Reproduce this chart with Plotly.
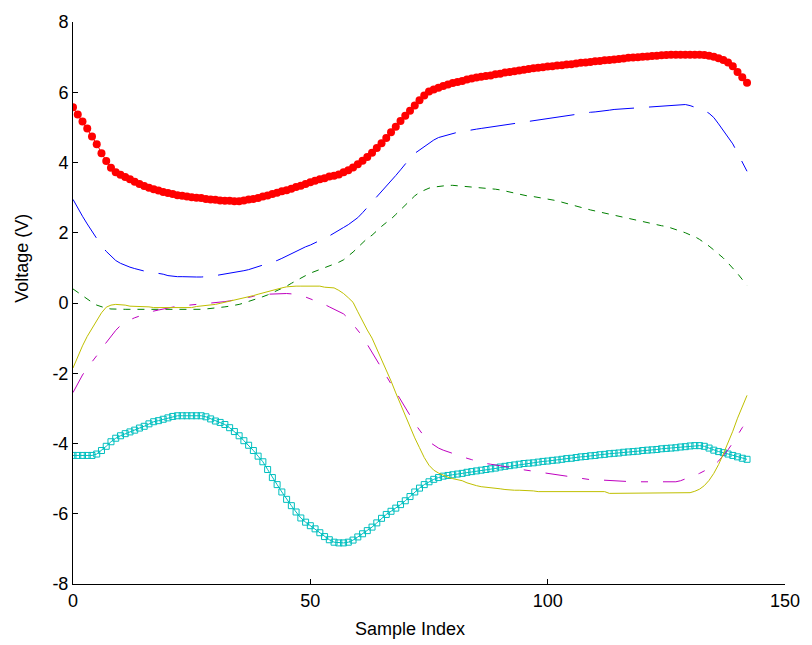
import plotly.graph_objects as go

# Sample indices (143 samples per channel)
sample_index = list(range(143))

# Channel voltages (V)
ch_red = [
    5.57, 5.37, 5.17, 4.97, 4.74, 4.52, 4.26, 4.04, 3.85, 3.72,
    3.65, 3.59, 3.52, 3.45, 3.39, 3.33, 3.28, 3.24, 3.20, 3.16,
    3.13, 3.10, 3.07, 3.05, 3.03, 3.01, 3.00, 2.99, 2.96, 2.95,
    2.94, 2.92, 2.91, 2.91, 2.90, 2.90, 2.92, 2.95, 2.96, 2.99,
    3.03, 3.06, 3.10, 3.14, 3.18, 3.21, 3.25, 3.30, 3.34, 3.39,
    3.44, 3.48, 3.52, 3.55, 3.60, 3.62, 3.66, 3.72, 3.78, 3.86,
    3.95, 4.05, 4.16, 4.28, 4.41, 4.55, 4.70, 4.86, 5.02, 5.18,
    5.33, 5.47, 5.62, 5.77, 5.91, 6.02, 6.08, 6.13, 6.18, 6.22,
    6.26, 6.29, 6.32, 6.36, 6.39, 6.42, 6.44, 6.46, 6.48, 6.51,
    6.53, 6.56, 6.58, 6.60, 6.62, 6.64, 6.66, 6.68, 6.70, 6.71,
    6.73, 6.74, 6.76, 6.77, 6.79, 6.80, 6.82, 6.84, 6.85, 6.86,
    6.88, 6.89, 6.91, 6.92, 6.93, 6.95, 6.96, 6.98, 6.99, 7.00,
    7.01, 7.02, 7.03, 7.04, 7.05, 7.06, 7.07, 7.07, 7.07, 7.07,
    7.07, 7.07, 7.07, 7.06, 7.04, 7.01, 6.97, 6.92, 6.85, 6.74,
    6.58, 6.43, 6.27,
]

ch_blue = [
    2.95, 2.70, 2.47, 2.25, 2.03, 1.84, 1.63, 1.47, 1.33, 1.21,
    1.13, 1.07, 1.02, 0.98, 0.94, 0.91, 0.89, 0.87, 0.86, 0.82,
    0.78, 0.76, 0.75, 0.75, 0.74, 0.74, 0.74, 0.74, 0.74, 0.76,
    0.78, 0.80, 0.82, 0.84, 0.86, 0.88, 0.92, 0.95, 0.99, 1.03,
    1.07, 1.12, 1.16, 1.21, 1.27, 1.34, 1.41, 1.48, 1.54, 1.60,
    1.65, 1.71, 1.77, 1.84, 1.91, 1.99, 2.06, 2.15, 2.23, 2.32,
    2.43, 2.57, 2.72, 2.86, 3.00, 3.15, 3.31, 3.47, 3.63, 3.79,
    3.96, 4.12, 4.26, 4.36, 4.45, 4.55, 4.64, 4.71, 4.75, 4.79,
    4.83, 4.86, 4.88, 4.91, 4.93, 4.95, 4.97, 4.99, 5.01, 5.03,
    5.06, 5.08, 5.11, 5.13, 5.15, 5.17, 5.18, 5.20, 5.22, 5.25,
    5.27, 5.29, 5.30, 5.31, 5.33, 5.36, 5.38, 5.40, 5.42, 5.43,
    5.44, 5.45, 5.47, 5.49, 5.51, 5.52, 5.53, 5.53, 5.54, 5.55,
    5.56, 5.58, 5.59, 5.60, 5.61, 5.63, 5.64, 5.65, 5.66, 5.65,
    5.62, 5.58, 5.54, 5.48, 5.40, 5.28, 5.10, 4.92, 4.74, 4.53,
    4.27, 4.01, 3.75,
]

ch_green = [
    0.40, 0.30, 0.20, 0.10, 0.02, -0.06, -0.11, -0.15, -0.17, -0.18,
    -0.18, -0.18, -0.18, -0.18, -0.18, -0.18, -0.19, -0.19, -0.19, -0.20,
    -0.20, -0.20, -0.20, -0.20, -0.20, -0.20, -0.19, -0.18, -0.17, -0.16,
    -0.15, -0.13, -0.11, -0.09, -0.07, -0.04, 0.00, 0.04, 0.08, 0.13,
    0.18, 0.23, 0.29, 0.35, 0.41, 0.48, 0.56, 0.64, 0.71, 0.78,
    0.85, 0.90, 0.95, 1.00, 1.05, 1.10, 1.16, 1.23, 1.33, 1.45,
    1.58, 1.72, 1.84, 1.93, 2.06, 2.18, 2.29, 2.39, 2.52, 2.65,
    2.78, 2.92, 3.05, 3.15, 3.22, 3.27, 3.30, 3.32, 3.34, 3.35,
    3.35, 3.34, 3.33, 3.32, 3.31, 3.30, 3.29, 3.27, 3.26, 3.24,
    3.22, 3.19, 3.15, 3.11, 3.08, 3.06, 3.04, 3.03, 3.01, 2.99,
    2.96, 2.93, 2.91, 2.87, 2.83, 2.80, 2.76, 2.72, 2.68, 2.65,
    2.62, 2.59, 2.55, 2.52, 2.49, 2.46, 2.43, 2.40, 2.37, 2.34,
    2.31, 2.28, 2.25, 2.23, 2.20, 2.18, 2.14, 2.10, 2.05, 2.00,
    1.94, 1.89, 1.81, 1.72, 1.62, 1.51, 1.40, 1.28, 1.14, 1.00,
    0.84, 0.67, 0.50,
]

ch_cyan = [
    -4.34, -4.34, -4.34, -4.34, -4.34, -4.30, -4.20, -4.08, -3.95, -3.85,
    -3.78, -3.72, -3.67, -3.62, -3.56, -3.51, -3.44, -3.38, -3.35, -3.31,
    -3.27, -3.23, -3.21, -3.21, -3.21, -3.21, -3.21, -3.21, -3.24, -3.30,
    -3.36, -3.40, -3.46, -3.55, -3.66, -3.78, -3.92, -4.05, -4.20, -4.36,
    -4.52, -4.74, -4.97, -5.17, -5.38, -5.59, -5.77, -5.95, -6.12, -6.24,
    -6.34, -6.43, -6.54, -6.65, -6.74, -6.81, -6.83, -6.83, -6.81, -6.75,
    -6.66, -6.57, -6.48, -6.38, -6.26, -6.13, -6.02, -5.93, -5.84, -5.74,
    -5.63, -5.51, -5.38, -5.27, -5.17, -5.09, -5.02, -4.97, -4.93, -4.91,
    -4.89, -4.87, -4.85, -4.82, -4.80, -4.78, -4.76, -4.74, -4.72, -4.70,
    -4.67, -4.65, -4.63, -4.61, -4.59, -4.57, -4.56, -4.55, -4.53, -4.51,
    -4.50, -4.48, -4.47, -4.45, -4.43, -4.42, -4.40, -4.38, -4.37, -4.35,
    -4.34, -4.32, -4.31, -4.29, -4.28, -4.27, -4.25, -4.24, -4.23, -4.22,
    -4.20, -4.19, -4.18, -4.17, -4.15, -4.14, -4.13, -4.12, -4.10, -4.09,
    -4.07, -4.06, -4.06, -4.08, -4.13, -4.19, -4.23, -4.26, -4.30, -4.34,
    -4.38, -4.42, -4.45,
]

ch_magenta = [
    -2.55, -2.30, -2.05, -1.85, -1.68, -1.50, -1.30, -1.12, -0.95, -0.78,
    -0.64, -0.55, -0.48, -0.42, -0.37, -0.32, -0.27, -0.23, -0.20, -0.17,
    -0.14, -0.11, -0.09, -0.08, -0.06, -0.05, -0.04, -0.03, -0.02, -0.01,
    0.00, 0.02, 0.04, 0.06, 0.08, 0.10, 0.13, 0.16, 0.19, 0.22,
    0.24, 0.25, 0.26, 0.27, 0.27, 0.27, 0.26, 0.24, 0.21, 0.17,
    0.12, 0.07, 0.02, -0.04, -0.11, -0.17, -0.24, -0.31, -0.44, -0.60,
    -0.77, -0.95, -1.18, -1.40, -1.65, -1.88, -2.10, -2.30, -2.52, -2.75,
    -2.98, -3.20, -3.43, -3.62, -3.80, -3.95, -4.05, -4.13, -4.19, -4.24,
    -4.29, -4.34, -4.38, -4.42, -4.46, -4.50, -4.54, -4.57, -4.59, -4.61,
    -4.62, -4.64, -4.67, -4.70, -4.73, -4.75, -4.77, -4.80, -4.82, -4.84,
    -4.86, -4.88, -4.90, -4.93, -4.95, -4.97, -4.99, -5.01, -5.02, -5.03,
    -5.03, -5.04, -5.05, -5.06, -5.07, -5.08, -5.09, -5.09, -5.09, -5.09,
    -5.09, -5.09, -5.09, -5.09, -5.09, -5.09, -5.09, -5.09, -5.06, -5.01,
    -4.96, -4.90, -4.85, -4.78, -4.70, -4.62, -4.50, -4.35, -4.18, -3.98,
    -3.75, -3.55, -3.35,
]

ch_yellow = [
    -1.85, -1.52, -1.22, -0.95, -0.72, -0.50, -0.28, -0.12, -0.06, -0.04,
    -0.04, -0.06, -0.09, -0.09, -0.09, -0.09, -0.11, -0.13, -0.13, -0.13,
    -0.13, -0.13, -0.13, -0.13, -0.13, -0.13, -0.10, -0.09, -0.08, -0.07,
    -0.04, -0.01, 0.02, 0.05, 0.08, 0.10, 0.13, 0.17, 0.21, 0.25,
    0.29, 0.33, 0.37, 0.40, 0.43, 0.46, 0.48, 0.48, 0.48, 0.48,
    0.48, 0.48, 0.48, 0.45, 0.43, 0.43, 0.36, 0.27, 0.15, 0.02,
    -0.25, -0.53, -0.77, -1.00, -1.30, -1.60, -1.90, -2.22, -2.56, -2.88,
    -3.22, -3.54, -3.84, -4.12, -4.40, -4.62, -4.76, -4.84, -4.91, -4.96,
    -5.00, -5.03, -5.06, -5.12, -5.17, -5.20, -5.23, -5.24, -5.26, -5.28,
    -5.29, -5.31, -5.33, -5.33, -5.33, -5.33, -5.33, -5.35, -5.37, -5.37,
    -5.37, -5.37, -5.37, -5.37, -5.37, -5.37, -5.37, -5.37, -5.37, -5.37,
    -5.37, -5.37, -5.37, -5.42, -5.42, -5.42, -5.42, -5.42, -5.42, -5.42,
    -5.42, -5.42, -5.42, -5.42, -5.42, -5.42, -5.42, -5.42, -5.42, -5.42,
    -5.40, -5.36, -5.30, -5.20, -5.05, -4.85, -4.60, -4.30, -4.00, -3.65,
    -3.28, -2.95, -2.63,
]

x_ticks = [0, 50, 100, 150]
y_ticks = [-8, -6, -4, -2, 0, 2, 4, 6, 8]

FONT = "Liberation Sans, Arial, sans-serif"

fig = go.Figure()

fig.add_trace(go.Scatter(
    x=sample_index, y=ch_blue, mode="lines",
    line=dict(color="#0000FF", width=1, dash="45px,15px"),
))
fig.add_trace(go.Scatter(
    x=sample_index, y=ch_green, mode="lines",
    line=dict(color="#008000", width=1, dash="7px,7px"),
))
fig.add_trace(go.Scatter(
    x=sample_index, y=ch_red, mode="lines+markers",
    line=dict(color="#FF0000", width=1),
    marker=dict(symbol="circle", size=8, color="#FF0000",
                line=dict(color="#FF0000", width=0)),
))
fig.add_trace(go.Scatter(
    x=sample_index, y=ch_cyan, mode="lines+markers",
    line=dict(color="#00BFBF", width=1),
    marker=dict(symbol="square-open", size=6, color="#00BFBF",
                line=dict(color="#00BFBF", width=1)),
))
fig.add_trace(go.Scatter(
    x=sample_index, y=ch_magenta, mode="lines",
    line=dict(color="#BF00BF", width=1, dash="22px,15px,7px,15px"),
))
fig.add_trace(go.Scatter(
    x=sample_index, y=ch_yellow, mode="lines",
    line=dict(color="#BFBF00", width=1),
))

axis_common = dict(
    showgrid=False, zeroline=False, showline=True, linecolor="black",
    linewidth=1, mirror=False, ticks="inside", ticklen=5,
    tickcolor="black", tickwidth=1,
    tickfont=dict(family=FONT, size=18, color="black"),
)

fig.update_xaxes(range=[0, 150], tickvals=x_ticks,
                 ticktext=[str(v) for v in x_ticks], **axis_common)
fig.update_yaxes(range=[-8, 8], tickvals=y_ticks,
                 ticktext=[str(v) for v in y_ticks], **axis_common)

fig.update_layout(
    width=812, height=645,
    margin=dict(l=73, r=18, t=17, b=61),
    paper_bgcolor="white", plot_bgcolor="white",
    showlegend=False,
    annotations=[
        dict(text="Sample Index", xref="paper", yref="paper",
             x=0.473, y=-0.08, xanchor="center", yanchor="middle",
             showarrow=False, font=dict(family=FONT, size=18, color="black")),
        dict(text="Voltage (V)", xref="paper", yref="paper",
             x=-0.072, y=0.58, xanchor="center", yanchor="middle",
             textangle=-90, showarrow=False,
             font=dict(family=FONT, size=18, color="black")),
    ],
)

fig.write_html("out.html")
